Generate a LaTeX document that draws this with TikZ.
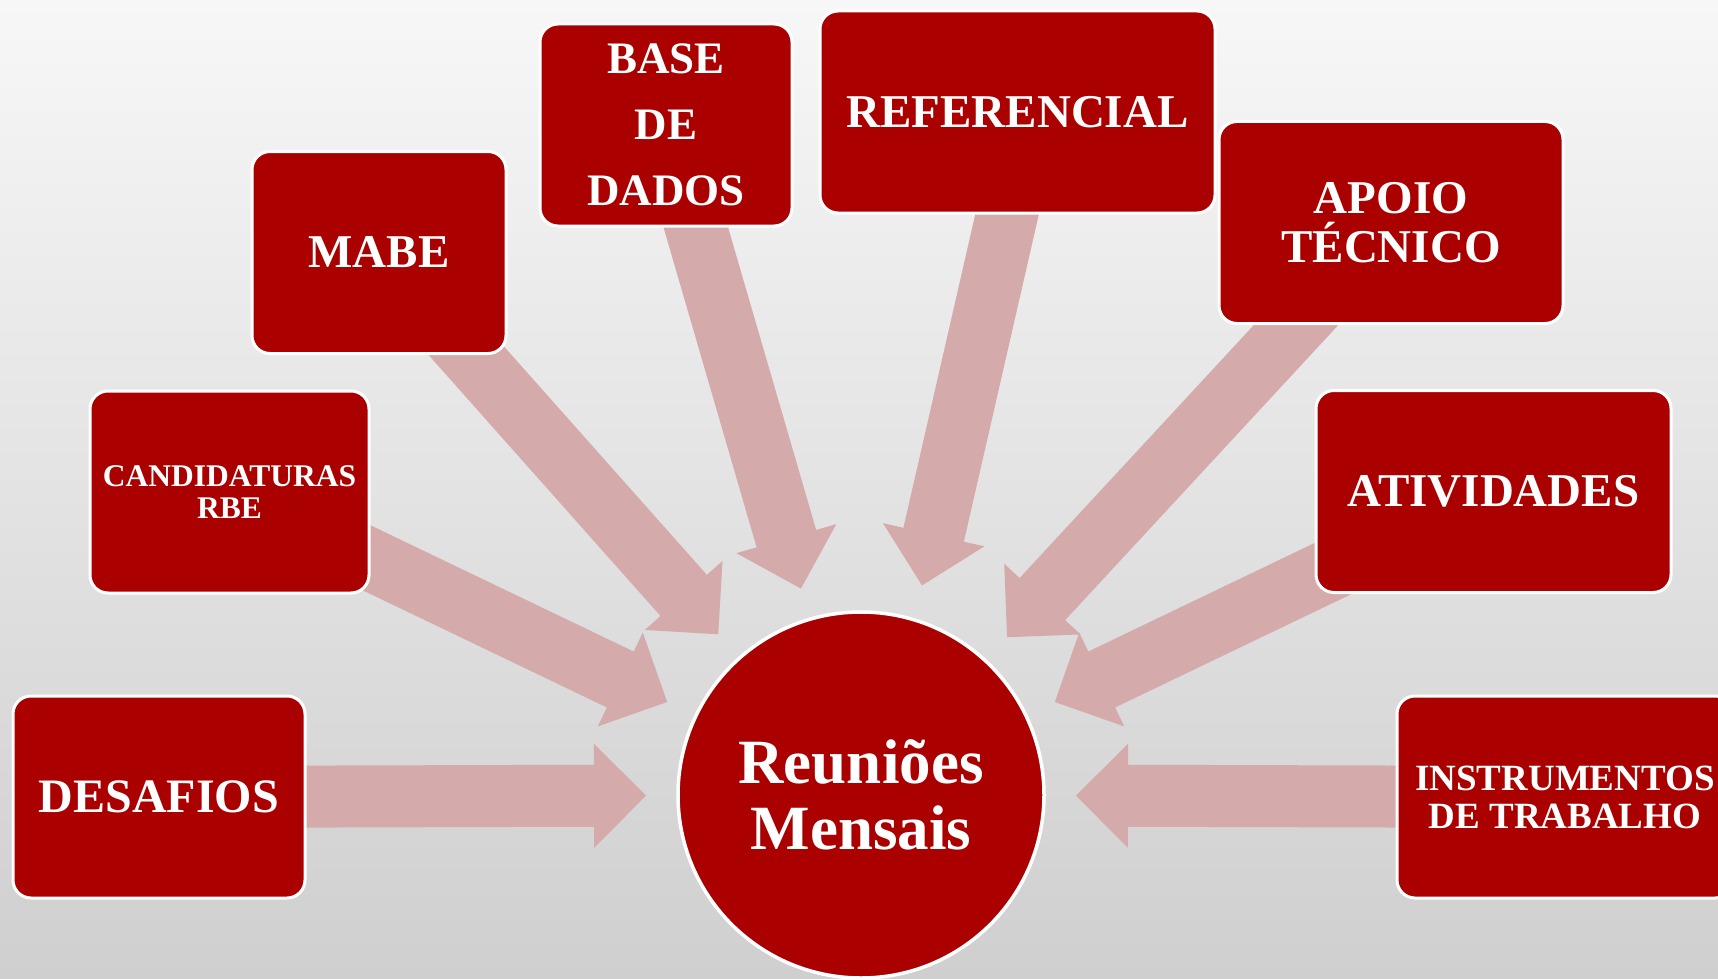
\documentclass[tikz,border=0pt]{standalone}
\usepackage{fontspec}
\setmainfont{Liberation Serif}
\usepackage{tikz}
\usetikzlibrary{calc, shapes.geometric}
\definecolor{boxred}{RGB}{170,0,0}
\definecolor{feedpink}{RGB}{212,170,170}
\definecolor{bgtop}{RGB}{247,247,247}
\definecolor{bgmid}{RGB}{235,235,235}
\definecolor{bgbottom}{RGB}{207,207,207}
\pgfdeclarelayer{paper}
\pgfdeclarelayer{feeds}
\pgfsetlayers{paper,feeds,main}
\newcommand{\fsz}[2]{\fontsize{#1}{#2}\selectfont}
% block arrow from #1 (tail) to #2 (tip)
\newcommand{\feedarrow}[2]{\fill[feed] ($(#1)!31pt!90:(#2)$) -- ($(#2)!52pt!(#1)!31pt!90:(#2)$) -- ($(#2)!52pt!(#1)!52pt!90:(#2)$) -- (#2) -- ($(#2)!52pt!(#1)!52pt!-90:(#2)$) -- ($(#2)!52pt!(#1)!31pt!-90:(#2)$) -- ($(#1)!31pt!-90:(#2)$) -- cycle;}
\tikzset{topic/.style={rectangle, rounded corners=18pt, fill=boxred, draw=white, line width=3pt, text=white, align=center, inner sep=0pt, minimum height=202pt}}
\tikzset{hub/.style={circle, fill=boxred, draw=white, line width=3.5pt, text=white, align=center, minimum size=366pt, font=\bfseries\fsz{63}{66}}}
\tikzset{feed/.style={fill=feedpink}}

\begin{document}
\begin{tikzpicture}[x=1pt, y=-1pt]
        \useasboundingbox (0,0) rectangle (1718,979);
        \begin{pgfonlayer}{paper}
            \shade[top color=bgtop, middle color=bgmid, bottom color=bgbottom] (0,0) rectangle (1718,979);
        \end{pgfonlayer}

        \node[hub] (hub) at (861,795) {Reuniões\\Mensais};

        \node[topic, minimum width=292pt, font=\bfseries\fsz{48}{50}] (desafios) at (159,797) {DESAFIOS};
        \node[topic, minimum width=279pt, font=\bfseries\fsz{31.5}{32}] (cand) at (229.5,492) {CANDIDATURAS\\RBE};
        \node[topic, minimum width=254pt, font=\bfseries\fsz{47}{50}] (mabe) at (379,252.5) {MABE};
        \node[topic, minimum width=252pt, font=\bfseries\fsz{45}{66}] (base) at (666,125) {BASE\\DE\\DADOS};
        \node[topic, minimum width=395pt, font=\bfseries\fsz{47}{50}] (ref) at (1017.5,112) {REFERENCIAL};
        \node[topic, minimum width=344pt, font=\bfseries\fsz{47}{49}] (apoio) at (1391,222.5) {APOIO\\TÉCNICO};
        \node[topic, minimum width=355pt, font=\bfseries\fsz{47}{50}] (ativ) at (1493.5,491.5) {ATIVIDADES};
        \node[topic, minimum width=336pt, font=\bfseries\fsz{37}{38}] (instr) at (1565,797) {INSTRUMENTOS\\DE TRABALHO};

        \coordinate (reffoot) at ($(ref)+(13,0)$);
        \foreach \src in {desafios, cand, mabe, base, apoio, ativ, instr}
            \coordinate (tip-\src) at ($(hub)!215pt!(\src)$);
        \coordinate (tip-reffoot) at ($(hub)!215pt!(ref)+(13,0)$);

        \begin{pgfonlayer}{feeds}
            \foreach \src in {desafios, cand, mabe, base, reffoot, apoio, ativ, instr}
                {\feedarrow{\src}{tip-\src}}
        \end{pgfonlayer}
\end{tikzpicture}
\end{document}
